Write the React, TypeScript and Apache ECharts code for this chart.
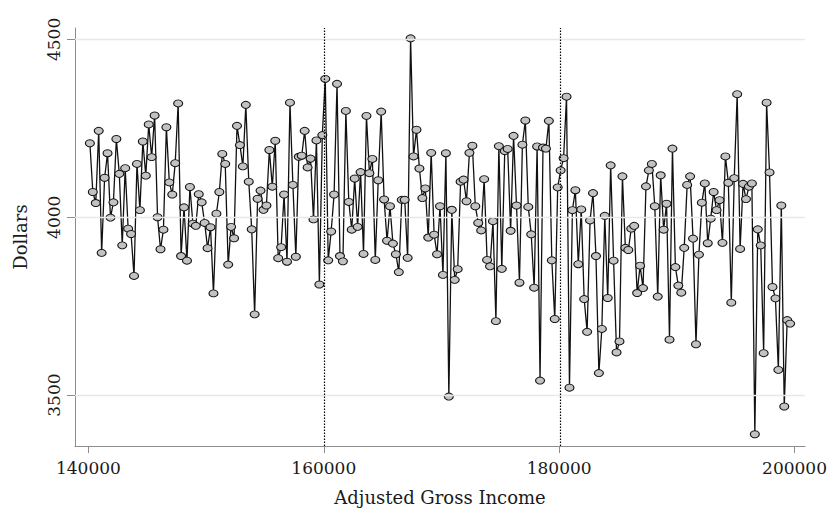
import React, { useEffect, useRef } from "react";
import * as echarts from "echarts";

// Adjusted gross income bin centers (250-dollar bins)
const incomes: number[] = [
  140125, 140375, 140625, 140875, 141125, 141375, 141625, 141875,
  142125, 142375, 142625, 142875, 143125, 143375, 143625, 143875,
  144125, 144375, 144625, 144875, 145125, 145375, 145625, 145875,
  146125, 146375, 146625, 146875, 147125, 147375, 147625, 147875,
  148125, 148375, 148625, 148875, 149125, 149375, 149625, 149875,
  150125, 150375, 150625, 150875, 151125, 151375, 151625, 151875,
  152125, 152375, 152625, 152875, 153125, 153375, 153625, 153875,
  154125, 154375, 154625, 154875, 155125, 155375, 155625, 155875,
  156125, 156375, 156625, 156875, 157125, 157375, 157625, 157875,
  158125, 158375, 158625, 158875, 159125, 159375, 159625, 159875,
  160125, 160375, 160625, 160875, 161125, 161375, 161625, 161875,
  162125, 162375, 162625, 162875, 163125, 163375, 163625, 163875,
  164125, 164375, 164625, 164875, 165125, 165375, 165625, 165875,
  166125, 166375, 166625, 166875, 167125, 167375, 167625, 167875,
  168125, 168375, 168625, 168875, 169125, 169375, 169625, 169875,
  170125, 170375, 170625, 170875, 171125, 171375, 171625, 171875,
  172125, 172375, 172625, 172875, 173125, 173375, 173625, 173875,
  174125, 174375, 174625, 174875, 175125, 175375, 175625, 175875,
  176125, 176375, 176625, 176875, 177125, 177375, 177625, 177875,
  178125, 178375, 178625, 178875, 179125, 179375, 179625, 179875,
  180125, 180375, 180625, 180875, 181125, 181375, 181625, 181875,
  182125, 182375, 182625, 182875, 183125, 183375, 183625, 183875,
  184125, 184375, 184625, 184875, 185125, 185375, 185625, 185875,
  186125, 186375, 186625, 186875, 187125, 187375, 187625, 187875,
  188125, 188375, 188625, 188875, 189125, 189375, 189625, 189875,
  190125, 190375, 190625, 190875, 191125, 191375, 191625, 191875,
  192125, 192375, 192625, 192875, 193125, 193375, 193625, 193875,
  194125, 194375, 194625, 194875, 195125, 195375, 195625, 195875,
  196125, 196375, 196625, 196875, 197125, 197375, 197625, 197875,
  198125, 198375, 198625, 198875, 199125, 199375, 199625,
];

// Mean dollars per bin
const dollars: number[] = [
  4208, 4071, 4040, 4243, 3900, 4111, 4180, 3999, 4042, 4220,
  4122, 3921, 4138, 3968, 3953, 3835, 4150, 4020, 4213, 4117,
  4261, 4169, 4286, 4000, 3910, 3965, 4253, 4098, 4064, 4152,
  4320, 3891, 4028, 3878, 4085, 3982, 3976, 4065, 4042, 3984,
  3913, 3972, 3786, 4010, 4071, 4178, 4150, 3867, 3973, 3941,
  4257, 4203, 4143, 4316, 4100, 3966, 3727, 4052, 4075, 4021,
  4033, 4189, 4086, 4215, 3885, 3916, 4064, 3875, 4322, 4091,
  3889, 4170, 4173, 4243, 4140, 4165, 3994, 4216, 3811, 4231,
  4389, 3879, 3960, 4064, 4375, 3891, 3876, 4299, 4043, 3965,
  4109, 3973, 4127, 3897, 4285, 4124, 4164, 3880, 4104, 4297,
  4050, 3934, 4031, 3926, 3896, 3846, 4049, 4049, 3886, 4503,
  4171, 4246, 4137, 4054, 4081, 3943, 4181, 3951, 3896, 4031,
  3838, 4180, 3496, 4021, 3824, 3854, 4100, 4106, 4045, 4181,
  4201, 4031, 3984, 3963, 4107, 3880, 3862, 3989, 3708, 4200,
  3855, 4186, 4192, 3962, 4229, 4033, 3816, 4204, 4272, 4029,
  3952, 3802, 4199, 3541, 4196, 4193, 4271, 3879, 3714, 4084,
  4132, 4166, 4339, 3521, 4020, 4076, 3868, 4022, 3770, 3678,
  3991, 4068, 3891, 3562, 3686, 4004, 3773, 4146, 3878, 3620,
  3651, 4115, 3914, 3908, 3968, 3976, 3787, 3864, 3801, 4087,
  4132, 4150, 4031, 3777, 4118, 3965, 4038, 3656, 4193, 3860,
  3808, 3788, 3914, 4091, 4115, 3940, 3643, 3895, 4041, 4095,
  3927, 3996, 4071, 4020, 4048, 3928, 4171, 4097, 3760, 4110,
  4346, 3911, 4094, 4051, 4086, 4095, 3390, 3966, 3921, 3618,
  4322, 4126, 3804, 3772, 3571, 4033, 3468, 3711, 3701,
];

const xTicks: number[] = [140000, 160000, 180000, 200000];
const yTicks: number[] = [3500, 4000, 4500];
const cutoffs: number[] = [160000, 180100];

const FONT = "DejaVu Serif";

export default function App() {
  const ref = useRef<HTMLDivElement>(null);

  useEffect(() => {
    if (!ref.current) return;
    const chart = echarts.init(ref.current, undefined, { renderer: "svg" });
    const points = incomes.map((x, i) => [x, dollars[i]]);
    chart.setOption({
      animation: false,
      backgroundColor: "#ffffff",
      grid: { left: 75, right: 20, top: 28, bottom: 64, containLabel: false },
      xAxis: {
        type: "value",
        min: 138860,
        max: 200890,
        axisLine: { show: true, onZero: false, lineStyle: { color: "#8c8c8c", width: 1 } },
        axisTick: { show: true, length: 7, customValues: xTicks, lineStyle: { color: "#8c8c8c", width: 1 } },
        axisLabel: {
          customValues: xTicks,
          formatter: (v: number) => String(v),
          fontFamily: FONT,
          fontSize: 17,
          color: "#1a1a1a",
          margin: 13,
        },
        splitLine: { show: false },
        name: "Adjusted Gross Income",
        nameLocation: "middle",
        nameGap: 42,
        nameTextStyle: { fontFamily: FONT, fontSize: 18, color: "#1a1a1a" },
      },
      yAxis: {
        type: "value",
        min: 3357,
        max: 4532,
        axisLine: { show: true, onZero: false, lineStyle: { color: "#8c8c8c", width: 1 } },
        axisTick: { show: true, length: 8, customValues: yTicks, lineStyle: { color: "#8c8c8c", width: 1 } },
        axisLabel: {
          customValues: yTicks,
          formatter: (v: number) => String(v),
          rotate: 90,
          fontFamily: FONT,
          fontSize: 17,
          color: "#1a1a1a",
          margin: 13,
        },
        splitLine: { show: false },
        name: "Dollars",
        nameLocation: "middle",
        nameRotate: 90,
        nameGap: 46,
        nameTextStyle: { fontFamily: FONT, fontSize: 18, color: "#1a1a1a" },
      },
      series: [
        {
          type: "line",
          data: [],
          z: 1,
          silent: true,
          markLine: {
            silent: true,
            symbol: ["none", "none"],
            label: { show: false },
            lineStyle: { color: "#e8e8e8", width: 1.3, type: "solid" },
            data: yTicks.map((v) => ({ yAxis: v })),
          },
        },
        {
          type: "line",
          data: [],
          z: 2,
          silent: true,
          markLine: {
            silent: true,
            symbol: ["none", "none"],
            label: { show: false },
            lineStyle: { color: "#000000", width: 1.2, type: [1.5, 1.5] },
            data: cutoffs.map((v) => ({ xAxis: v })),
          },
        },
        {
          type: "line",
          data: points,
          z: 3,
          symbol: "circle",
          symbolSize: [9, 7],
          showAllSymbol: true,
          lineStyle: { color: "#111111", width: 1.3 },
          itemStyle: { color: "#c2c2c2", borderColor: "#111111", borderWidth: 1 },
        },
      ],
    });
    return () => chart.dispose();
  }, []);

  return (
    <div
      ref={ref}
      style={{ position: "fixed", left: 0, top: 0, width: 830, height: 511, background: "#fff" }}
    />
  );
}
